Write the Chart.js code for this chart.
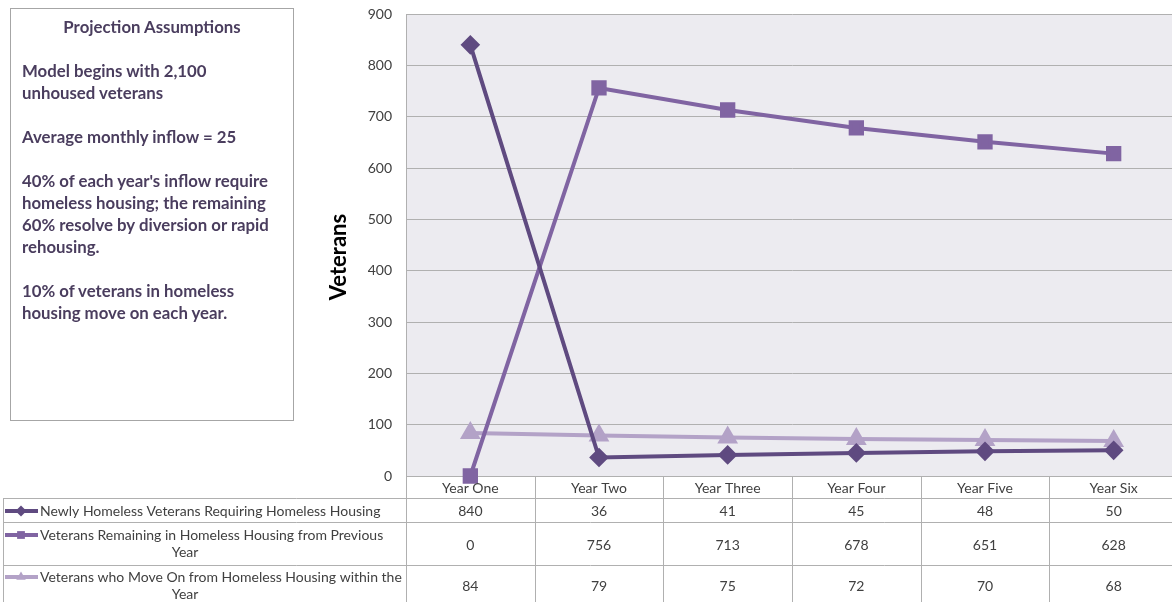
<!DOCTYPE html>
<html>
<head>
<meta charset="utf-8">
<script src="https://cdn.jsdelivr.net/npm/chart.js@4/dist/chart.umd.min.js"></script>
<style>
  body { margin: 0; overflow: hidden; background: #fff; }
  #wrap { position: relative; width: 1190px; height: 602px; }
  #notes {
    position: absolute; left: 10px; top: 8px; width: 284px; height: 413px;
    border: 1px solid #a6a6a6; box-sizing: border-box;
    font-family: Lato, "Open Sans", sans-serif; font-weight: bold;
    color: #4a3d5e; font-size: 16.8px; line-height: 22px; padding: 7px 0 0 11px;
  }
  #notes h3 { margin: 0 0 22px 0; font-size: 16.8px; text-align: center; padding-right: 11px; }
  #notes p { margin: 0 0 22px 0; }
</style>
</head>
<body>
<div id="wrap">
  <canvas id="chart"></canvas>
  <div id="notes">
    <h3>Projection Assumptions</h3>
    <p>Model begins with 2,100<br>unhoused veterans</p>
    <p>Average monthly inflow = 25</p>
    <p>40% of each year's inflow require<br>homeless housing; the remaining<br>60% resolve by diversion or rapid<br>rehousing.</p>
    <p>10% of veterans in homeless<br>housing move on each year.</p>
  </div>
</div>
<script>
const years = ['Year One', 'Year Two', 'Year Three', 'Year Four', 'Year Five', 'Year Six'];
const newlyHomeless = [840, 36, 41, 45, 48, 50];
const remaining = [0, 756, 713, 678, 651, 628];
const moveOn = [84, 79, 75, 72, 70, 68];
const seriesNames = [
  ['Newly Homeless Veterans Requiring Homeless Housing'],
  ['Veterans Remaining in Homeless Housing from Previous', 'Year'],
  ['Veterans who Move On from Homeless Housing within the', 'Year']
];
const colors = ['#5f4a80', '#8064a2', '#b3a2c7'];
const styles = ['rectRot', 'rect', 'triangle'];
const radii = [7, 8, 8];

const FONT = 'Lato, "Open Sans", sans-serif';
const textColor = '#404040';
const gridColor = '#b0b0b0';

// rows of the data table under the plot
const rows = [
  { top: 498, bottom: 522, lines: [511], value: 511, key: 511 },
  { top: 522, bottom: 565, lines: [535, 552], value: 545, key: 535 },
  { top: 565, bottom: 608, lines: [577, 594], value: 586, key: 577 }
];

const plotAndTable = {
  id: 'plotAndTable',
  beforeDraw(chart) {
    const { ctx, chartArea: a } = chart;
    ctx.save();
    ctx.fillStyle = '#ecebf0';
    ctx.fillRect(a.left, a.top, a.right - a.left, a.bottom - a.top);
    ctx.restore();
  },
  afterDatasetsDraw(chart) {
    const { ctx, chartArea: a } = chart;
    const x = chart.scales.x;
    const half = (x.getPixelForValue(1) - x.getPixelForValue(0)) / 2;
    const data = [newlyHomeless, remaining, moveOn];
    ctx.save();
    ctx.strokeStyle = gridColor;
    ctx.lineWidth = 1;
    ctx.beginPath();
    rows.forEach(r => { ctx.moveTo(3, r.top + 0.5); ctx.lineTo(a.right, r.top + 0.5); });
    ctx.moveTo(3.5, rows[0].top); ctx.lineTo(3.5, 602);
    ctx.moveTo(a.left + 0.5, a.bottom); ctx.lineTo(a.left + 0.5, 602);
    for (let i = 1; i < years.length; i++) {
      const px = Math.round(x.getPixelForValue(i) - half) + 0.5;
      ctx.moveTo(px, a.bottom); ctx.lineTo(px, 602);
    }
    ctx.stroke();

    ctx.font = '14px ' + FONT;
    ctx.fillStyle = textColor;
    ctx.textAlign = 'center';
    ctx.textBaseline = 'middle';
    // category labels (header row)
    years.forEach((y, i) => ctx.fillText(y, x.getPixelForValue(i), 488));
    rows.forEach((r, s) => {
      data[s].forEach((v, i) => ctx.fillText(String(v), x.getPixelForValue(i), r.value));
      seriesNames[s].forEach((t, j) => {
        if (j === 0) { ctx.textAlign = 'left'; ctx.fillText(t, 40, r.lines[0]); }
        else { ctx.textAlign = 'center'; ctx.fillText(t, 185, r.lines[j]); }
      });
      ctx.textAlign = 'center';
      // legend key
      ctx.strokeStyle = colors[s];
      ctx.lineWidth = 4;
      ctx.beginPath(); ctx.moveTo(5, r.key); ctx.lineTo(38, r.key); ctx.stroke();
      ctx.fillStyle = colors[s];
      Chart.helpers.drawPoint(ctx, { pointStyle: styles[s], radius: 5.5, rotation: 0 }, 21, r.key);
      ctx.fillStyle = textColor;
    });

    // y axis title
    ctx.translate(339, 257);
    ctx.rotate(-Math.PI / 2);
    ctx.font = 'bold 22px ' + FONT;
    ctx.fillStyle = '#000';
    ctx.fillText('Veterans', 0, 0);
    ctx.restore();
  }
};

new Chart(document.getElementById('chart'), {
  type: 'line',
  data: {
    labels: years,
    datasets: [newlyHomeless, remaining, moveOn].map((d, i) => ({
      label: seriesNames[i].join(' '),
      data: d,
      borderColor: colors[i],
      backgroundColor: colors[i],
      borderWidth: 4,
      pointStyle: styles[i],
      pointRadius: radii[i],
      pointHoverRadius: radii[i],
      tension: 0,
      clip: false
    }))
  },
  options: {
    responsive: true,
    maintainAspectRatio: false,
    animation: false,
    layout: { padding: { top: 14, left: 0, right: 0, bottom: 0 } },
    plugins: { legend: { display: false }, tooltip: { enabled: false } },
    scales: {
      x: {
        offset: true,
        grid: { display: false },
        border: { display: false },
        ticks: { display: false },
        afterFit(s) { s.height = 126; }
      },
      y: {
        min: 0, max: 900,
        ticks: { stepSize: 100, color: textColor, font: { family: FONT, size: 14 }, padding: 14 },
        grid: { color: gridColor, drawTicks: false },
        border: { display: true, color: gridColor },
        afterFit(s) { s.width = 406; s.paddingTop = 0; s.paddingBottom = 0; }
      }
    }
  },
  plugins: [plotAndTable]
});
</script>
</body>
</html>
